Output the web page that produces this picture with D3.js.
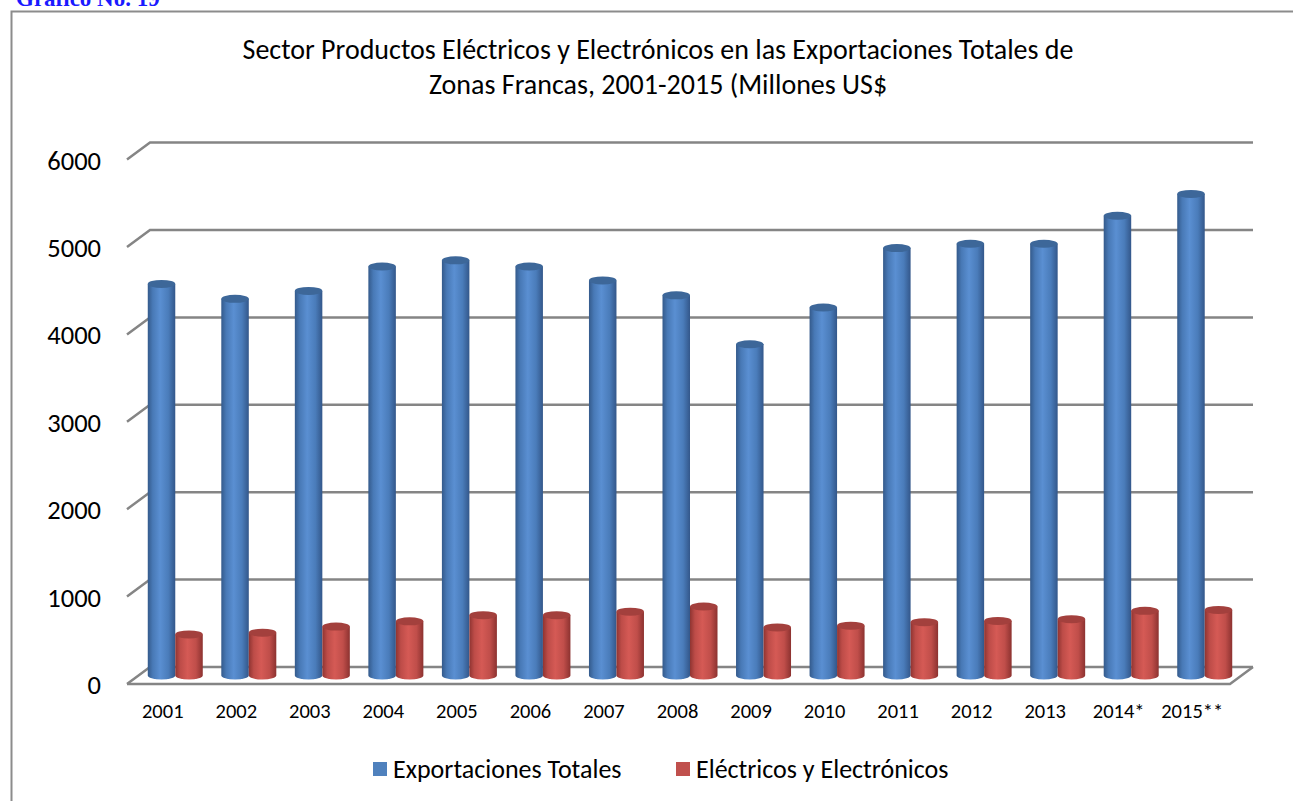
<!DOCTYPE html>
<html>
<head>
<meta charset="utf-8">
<script src="https://cdn.jsdelivr.net/npm/d3@7"></script>
<style>
	body { margin: 0; background: #fff; }
	svg { display: block; }
	text { font-family: Carlito, Calibri, Lato, sans-serif; fill: #000; }
</style>
</head>
<body>
<div id="graph"></div>
<script>
const years = ['2001', '2002', '2003', '2004', '2005', '2006', '2007', '2008', '2009', '2010', '2011', '2012', '2013', '2014*', '2015**'];
const totales = [4480, 4310, 4400, 4680, 4750, 4680, 4520, 4350, 3790, 4210, 4890, 4940, 4940, 5260, 5510];
const electricos = [470, 490, 560, 620, 690, 690, 730, 790, 550, 570, 610, 625, 645, 740, 750];
const yTicks = [0, 1000, 2000, 3000, 4000, 5000, 6000];
const seriesNames = ['Exportaciones Totales', 'Eléctricos y Electrónicos'];
const titleLines = ['Sector Productos Eléctricos y Electrónicos en las Exportaciones Totales de', 'Zonas Francas, 2001-2015 (Millones US$'];

function drawChart() {
	const width = 1293,
		height = 801;
	const depth = { x: 23, y: -17 }; // back wall offset
	const mid = { x: 11.5, y: -8.5 }; // bars stand halfway in depth
	const barW = 27.5;
	const gridColor = '#858585';

	const svg = d3.select('#graph').append('svg').attr('width', width).attr('height', height);

	const xScale = d3.scaleBand().domain(years).range([127, 1230]);
	const yScale = d3.scaleLinear().domain([0, 6000]).range([684, 159.6]);

	// frame and cut off heading
	svg.append('path').attr('d', 'M11.5,801V11.5H1293').attr('fill', 'none').attr('stroke', '#8c8c8c').attr('stroke-width', 2);
	svg.append('text')
		.attr('x', 16)
		.attr('y', 6)
		.style('font-family', '"Liberation Serif", serif')
		.style('font-weight', 'bold')
		.style('font-size', '23px')
		.style('fill', '#1a1aff')
		.text('Gráfico No. 19');

	// title
	svg.append('g')
		.selectAll('text')
		.data(titleLines)
		.enter()
		.append('text')
		.attr('x', 658)
		.attr('y', (d, i) => 59 + i * 35)
		.attr('text-anchor', 'middle')
		.style('font-size', '28px')
		.text((d) => d);

	const x0 = xScale.range()[0],
		x1 = xScale.range()[1];

	// back wall gridlines + left side
	const grid = svg.append('g').attr('stroke', gridColor).attr('stroke-width', 2.5).attr('fill', 'none');
	grid.selectAll('.wall')
		.data(yTicks)
		.enter()
		.append('path')
		.attr('d', (d) => `M${x0},${yScale(d)}L${x0 + depth.x},${yScale(d) + depth.y}H${x1 + depth.x}`);

	// floor
	grid.append('path').attr('d', `M${x0},${yScale(0)}H${x1}L${x1 + depth.x},${yScale(0) + depth.y}`);

	// y labels
	svg.append('g')
		.selectAll('text')
		.data(yTicks)
		.enter()
		.append('text')
		.attr('x', 101)
		.attr('y', (d) => yScale(d) + 1)
		.attr('text-anchor', 'end')
		.attr('dominant-baseline', 'central')
		.style('font-size', '26.5px')
		.text((d) => d);

	// x labels
	svg.append('g')
		.selectAll('text')
		.data(years)
		.enter()
		.append('text')
		.attr('x', (d) => xScale(d) + xScale.bandwidth() / 2 - 1)
		.attr('y', 718)
		.attr('text-anchor', 'middle')
		.style('font-size', '20.5px')
		.text((d) => d);

	// cylinder shading
	const defs = svg.append('defs');
	const shades = {
		blue: [['0%', '#345a8b'], ['18%', '#4879b6'], ['45%', '#5a8fd2'], ['75%', '#4a7cba'], ['100%', '#33578a']],
		red: [['0%', '#8f3431'], ['18%', '#bd4c48'], ['45%', '#d55a55'], ['75%', '#c04e4a'], ['100%', '#8c3230']],
	};
	Object.keys(shades).forEach((k) => {
		defs.append('linearGradient')
			.attr('id', 'g-' + k)
			.attr('x1', 0)
			.attr('x2', 1)
			.selectAll('stop')
			.data(shades[k])
			.enter()
			.append('stop')
			.attr('offset', (d) => d[0])
			.attr('stop-color', (d) => d[1]);
	});
	const tops = { blue: '#3d6799', red: '#a3403d' };

	const bars = [];
	years.forEach((y, i) => {
		const left = xScale(y) + xScale.bandwidth() / 2 - barW + mid.x;
		bars.push({ x: left, v: totales[i], c: 'blue' });
		bars.push({ x: left + barW, v: electricos[i], c: 'red' });
	});

	const ry = 4;
	const base = yScale(0) + mid.y;
	const cyl = svg.append('g').selectAll('g').data(bars).enter().append('g');

	cyl.append('path')
		.attr('d', (d) => {
			const top = yScale(d.v) + mid.y,
				rx = barW / 2;
			return `M${d.x},${top}V${base}A${rx},${ry} 0 0 0 ${d.x + barW},${base}V${top}Z`;
		})
		.attr('fill', (d) => `url(#g-${d.c})`);

	cyl.append('ellipse')
		.attr('cx', (d) => d.x + barW / 2)
		.attr('cy', (d) => yScale(d.v) + mid.y)
		.attr('rx', barW / 2)
		.attr('ry', ry)
		.attr('fill', (d) => tops[d.c]);

	// legend
	const legend = svg.append('g')
		.selectAll('g')
		.data(seriesNames)
		.enter()
		.append('g')
		.attr('transform', (d, i) => `translate(${[373, 676][i]}, 762)`);

	legend.append('rect')
		.attr('width', 14)
		.attr('height', 14)
		.attr('fill', (d, i) => ['#4f81bd', '#c0504d'][i]);

	legend.append('text')
		.attr('x', 20)
		.attr('y', 16)
		.style('font-size', '26px')
		.text((d) => d);
}

drawChart();
</script>
</body>
</html>
